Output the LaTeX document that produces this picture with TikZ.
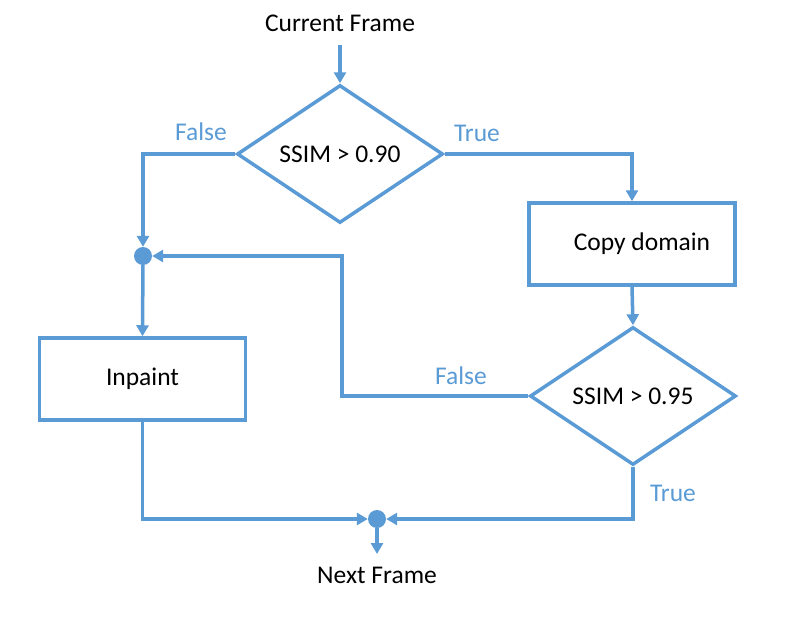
\documentclass[tikz,border=0pt]{standalone}
\usepackage{fontspec}
\setmainfont{Carlito}
\usetikzlibrary{shapes.geometric,arrows.meta}
\definecolor{fc}{HTML}{5B9BD5}
\begin{document}
\begin{tikzpicture}[x=1pt,y=-1pt,
  font=\fontsize{25.5}{30}\selectfont,
  conn/.style={draw=fc,line width=3.5pt},
  arr/.style={conn,-{Triangle[length=11pt,width=12pt]}},
  box/.style={draw=fc,line width=3.5pt,minimum width=206pt,minimum height=82pt,inner sep=0pt},
  dia/.style={diamond,draw=fc,line width=3.5pt,minimum width=206pt,minimum height=138pt,aspect=1.49,inner sep=0pt},
  dot/.style={circle,fill=fc,minimum size=18pt,inner sep=0pt},
  lbl/.style={text=fc,inner sep=0pt},
  txt/.style={inner sep=0pt}]
\useasboundingbox (0,0) rectangle (788,640);
\node[txt] (cur) at (340,23) {Current Frame};
\coordinate (curs) at (340,45);
\node[dia] (d1) at (340,154) {SSIM > 0.90};
\node[box] (copy) at (632,244) {\hspace*{20pt}Copy domain};
\node[dia] (d2) at (633,396) {SSIM > 0.95};
\node[box] (inp) at (142.5,379) {Inpaint};
\node[dot] (dot1) at (143,256) {};
\node[dot] (dot2) at (377,519) {};
\node[txt] (next) at (377,575) {Next Frame};
\coordinate (nexts) at (377,554);
\coordinate (fb) at (342,396);
\draw[arr] (curs) -- (d1.north);
\draw[arr] (d1.west) -| (dot1);
\draw[arr] (d1.east) -| (copy.north);
\draw[arr] (copy.south) -- (d2.north);
\draw[arr] (d2.west) -- (fb) |- (dot1);
\draw[arr] (dot1) -- (inp.north);
\draw[arr] (inp.south) |- (dot2);
\draw[arr] (d2.south) |- (dot2);
\draw[arr] (dot2) -- (nexts);
\node[lbl] (l1) at (201,132) {False};
\node[lbl] (l2) at (477,133) {True};
\node[lbl] (l3) at (461,376) {False};
\node[lbl] (l4) at (673,493) {True};
\end{tikzpicture}
\end{document}
